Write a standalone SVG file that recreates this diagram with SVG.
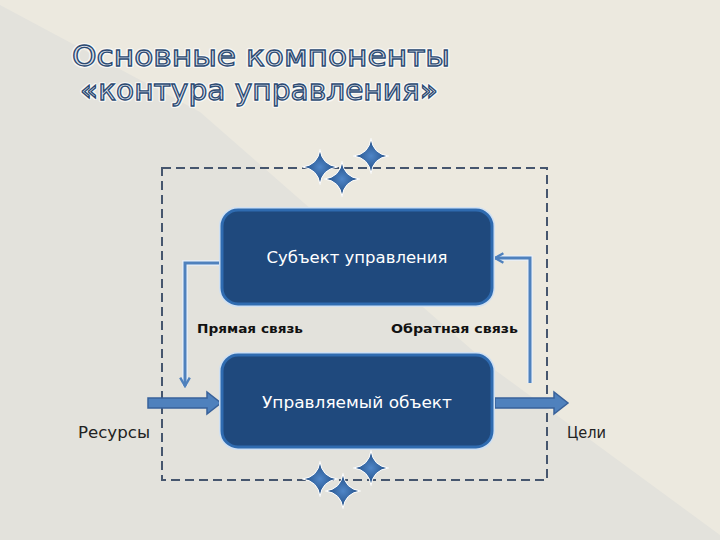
<svg xmlns="http://www.w3.org/2000/svg" width="720" height="540" viewBox="0 0 720 540">
<defs>
<style>
.title{font-family:"DejaVu Sans","Liberation Sans",sans-serif;font-size:28px;fill:#dfe3ea;stroke:#2b4a72;stroke-width:1.3px;}
.halo{font-family:"DejaVu Sans","Liberation Sans",sans-serif;font-size:28px;fill:none;stroke:#ffffff;stroke-width:4px;stroke-linejoin:round;opacity:0.7}
.box{fill:#1f497d;stroke:#2f6bb0;stroke-width:3;}
.boxglow{fill:none;stroke:#cfe0f3;stroke-width:6;}
.btext{font-family:"DejaVu Sans","Liberation Sans",sans-serif;font-size:15px;fill:#ffffff;}
.lbl{font-family:"DejaVu Sans","Liberation Sans",sans-serif;font-size:13px;font-weight:bold;fill:#111111;}
.side{font-family:"DejaVu Sans","Liberation Sans",sans-serif;font-size:15px;fill:#222222;}
.dash{fill:none;stroke:#46566e;stroke-width:2;stroke-dasharray:9 5;}
.line{fill:none;stroke:#4f81bd;stroke-width:3;}
.lineglow{fill:none;stroke:#e8f0fa;stroke-width:5.5;}
.block{fill:#4f81bd;stroke:#38619a;stroke-width:1.5;}
.star{fill:url(#sg);stroke:#ffffff;stroke-width:1;}
</style>
<radialGradient id="sg" cx="0.5" cy="0.5" r="0.5">
<stop offset="0" stop-color="#4f86c8"/>
<stop offset="1" stop-color="#1f4a80"/>
</radialGradient>
<path id="st" d="M0,-17.5 Q2,-2 17.5,0 Q2,2 0,17.5 Q-2,2 -17.5,0 Q-2,-2 0,-17.5Z"/>
<marker id="ah" viewBox="0 0 10 10" refX="8" refY="5" markerWidth="4" markerHeight="4" orient="auto" markerUnits="strokeWidth">
<path d="M1,1 L8,5 L1,9" fill="none" stroke="#4f81bd" stroke-width="2"/>
</marker>
</defs>
<rect x="0" y="0" width="720" height="540" fill="#ece9df"/>
<polygon points="0,5 200,112 495,370 720,535 720,540 0,540" fill="#e3e2dc"/>

<g id="title">
<text class="halo" x="72" y="66" textLength="378" lengthAdjust="spacingAndGlyphs">Основные компоненты</text>
<text class="title" x="72" y="66" textLength="378" lengthAdjust="spacingAndGlyphs">Основные компоненты</text>
<text class="halo" x="80" y="100" textLength="358" lengthAdjust="spacingAndGlyphs">«контура управления»</text>
<text class="title" x="80" y="100" textLength="358" lengthAdjust="spacingAndGlyphs">«контура управления»</text>
</g>

<g id="contour">
<rect class="dash" x="162" y="168" width="385" height="312"/>
</g>

<g id="connectors">
<polyline class="lineglow" points="223,263 185,263 185,386"/>
<polyline class="line" points="223,263 185,263 185,386" marker-end="url(#ah)"/>
<polyline class="lineglow" points="530,383 530,258 496,258"/>
<polyline class="line" points="530,383 530,258 495,258" marker-end="url(#ah)"/>
<polygon class="block" points="148,398 207,398 207,392 221,403 207,414 207,408 148,408"/>
<polygon class="block" points="495,398 554,398 554,392 568,403 554,414 554,408 495,408"/>
</g>

<g id="subject">
<rect class="boxglow" x="222" y="210" width="270" height="94" rx="16"/>
<rect class="box" x="222" y="210" width="270" height="94" rx="16"/>
<text class="btext" x="357" y="263" text-anchor="middle" textLength="181" lengthAdjust="spacingAndGlyphs">Субъект управления</text>
</g>

<g id="object">
<rect class="boxglow" x="222" y="355" width="270" height="92" rx="16"/>
<rect class="box" x="222" y="355" width="270" height="92" rx="16"/>
<text class="btext" x="357" y="408" text-anchor="middle" textLength="190" lengthAdjust="spacingAndGlyphs">Управляемый объект</text>
</g>

<g id="labels">
<text class="lbl" x="197" y="333" textLength="106" lengthAdjust="spacingAndGlyphs">Прямая связь</text>
<text class="lbl" x="391" y="333" textLength="127" lengthAdjust="spacingAndGlyphs">Обратная связь</text>
<text class="side" x="78" y="438" textLength="72" lengthAdjust="spacingAndGlyphs">Ресурсы</text>
<text class="side" x="567" y="438" textLength="39" lengthAdjust="spacingAndGlyphs">Цели</text>
</g>

<g id="stars-top">
<use href="#st" class="star" x="320" y="167"/>
<use href="#st" class="star" x="342" y="179"/>
<use href="#st" class="star" x="371" y="156"/>
</g>
<g id="stars-bottom">
<use href="#st" class="star" x="320" y="479"/>
<use href="#st" class="star" x="343" y="491"/>
<use href="#st" class="star" x="371" y="468"/>
</g>
</svg>
